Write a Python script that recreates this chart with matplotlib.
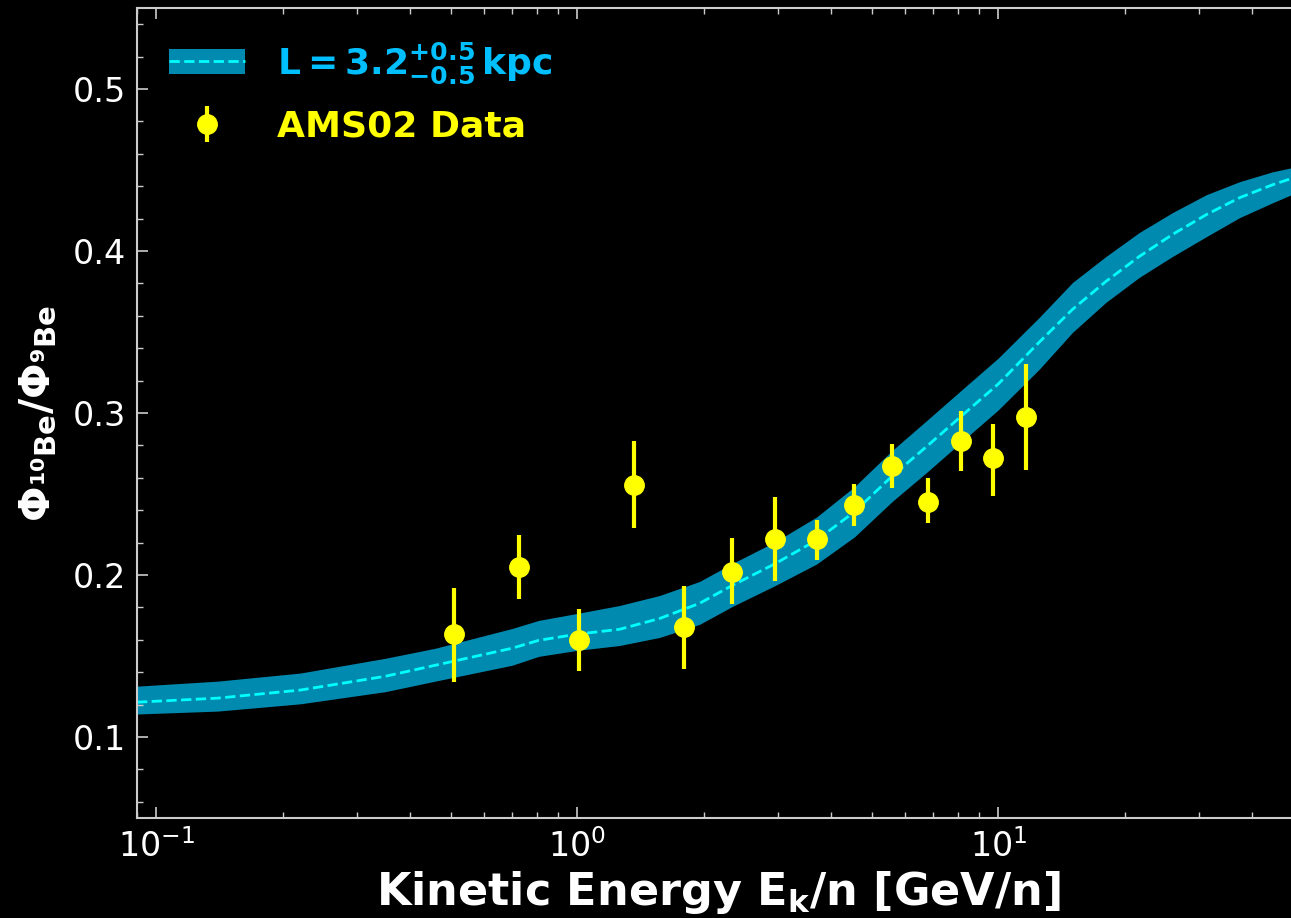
import numpy as np
import matplotlib
matplotlib.use('Agg')
import matplotlib.pyplot as plt
from matplotlib.patches import Patch
from matplotlib.lines import Line2D

# model band
band_x = [0.09, 0.14, 0.22, 0.35, 0.46, 0.7, 0.81, 1.0, 1.26, 1.57, 1.95, 2.33, 2.95, 3.7, 4.55,
          5.6, 6.8, 8.2, 10, 12.5, 15, 18, 21.6, 25.9, 31.2, 37.4, 44.8, 52]
band_mid = [0.1215, 0.124, 0.129, 0.1375, 0.1443, 0.1548, 0.1597, 0.1635, 0.1665, 0.1732, 0.1825, 0.1935,
            0.207, 0.2215, 0.239, 0.2612, 0.280, 0.2985, 0.318, 0.3437, 0.364, 0.3812, 0.3966, 0.4102,
            0.4225, 0.4329, 0.4409, 0.4465]
band_hi = [0.1314, 0.1345, 0.1395, 0.1486, 0.1548, 0.167, 0.172, 0.1763, 0.1812, 0.1874, 0.196, 0.207,
           0.2205, 0.2358, 0.2545, 0.277, 0.296, 0.3145, 0.334, 0.359, 0.3806, 0.3966, 0.4114, 0.4237,
           0.4348, 0.4428, 0.4489, 0.4525]
band_lo = [0.1142, 0.116, 0.1205, 0.128, 0.1345, 0.1443, 0.1498, 0.1535, 0.1565, 0.1615, 0.1695, 0.1805,
           0.1935, 0.2068, 0.2235, 0.2455, 0.264, 0.2825, 0.302, 0.327, 0.3498, 0.3683, 0.3837, 0.3966,
           0.4089, 0.4206, 0.4298, 0.437]

# AMS02 data
ams_x = [0.51, 0.728, 1.01, 1.366, 1.795, 2.334, 2.95, 3.70, 4.55, 5.60, 6.82, 8.17, 9.73, 11.6]
ams_y = [0.1634, 0.2052, 0.160, 0.2557, 0.168, 0.202, 0.222, 0.222, 0.243, 0.267, 0.245, 0.283, 0.272, 0.2975]
ams_top = [0.192, 0.225, 0.179, 0.283, 0.193, 0.223, 0.248, 0.234, 0.256, 0.281, 0.260, 0.301, 0.293, 0.330]
ams_bot = [0.134, 0.185, 0.141, 0.229, 0.142, 0.182, 0.196, 0.209, 0.230, 0.254, 0.232, 0.264, 0.249, 0.265]

band_color = '#008ab0'
line_color = '#00ffff'

fig = plt.figure(figsize=(12.91, 9.18), dpi=100, facecolor='black')
# right spine falls just outside the canvas, as in the original
ax = fig.add_axes([0.1061, 0.1089, 0.9008, 0.8824])
ax.set_facecolor('black')

ax.fill_between(band_x, band_lo, band_hi, color=band_color, lw=0)
ax.plot(band_x, band_mid, color=line_color, ls='--', lw=2)

yerr = [np.array(ams_y) - np.array(ams_bot), np.array(ams_top) - np.array(ams_y)]
ax.errorbar(ams_x, ams_y, yerr=yerr, fmt='o', color='#ffff00', ms=14, elinewidth=3, capsize=0, zorder=5)

ax.set_xscale('log')
ax.set_xlim(0.09, 52)
ax.set_ylim(0.05, 0.55)
ax.set_yticks([0.1, 0.2, 0.3, 0.4, 0.5])
ax.set_yticks(np.arange(0.06, 0.55, 0.02), minor=True)

for s in ax.spines.values():
    s.set_color('#cccccc')
    s.set_linewidth(1.5)
ax.tick_params(which='both', direction='in', top=True, right=False, colors='#cccccc', labelcolor='white')
ax.tick_params(which='major', length=8, width=1.2, labelsize=24, pad=8)
ax.tick_params(which='minor', length=4, width=1.0)

ax.set_xlabel(r'Kinetic Energy $\mathbf{E_k}$/n [GeV/n]', fontsize=32, fontweight='bold', color='white', labelpad=4)
ax.set_ylabel(r'$\mathbf{\Phi_{^{10}Be}/\Phi_{^{9}Be}}$', fontsize=30, fontweight='bold', color='white', labelpad=10)

h1 = (Patch(facecolor=band_color, edgecolor='none'), Line2D([], [], color=line_color, ls='--', lw=2))
h2 = ax.errorbar([], [], yerr=[], fmt='o', color='#ffff00', ms=14, elinewidth=3, capsize=0)
leg = ax.legend([h1, h2], [r'$\mathbf{L = 3.2^{+0.5}_{-0.5}\,kpc}$', 'AMS02 Data'], loc='upper left',
                frameon=False, prop={'size': 26, 'weight': 'bold'}, handlelength=2.08, handletextpad=0.9,
                labelspacing=0.65)
leg.get_texts()[0].set_color('#00bfff')
leg.get_texts()[1].set_color('#ffff00')

fig.savefig('out.png', dpi=100, facecolor='black')
